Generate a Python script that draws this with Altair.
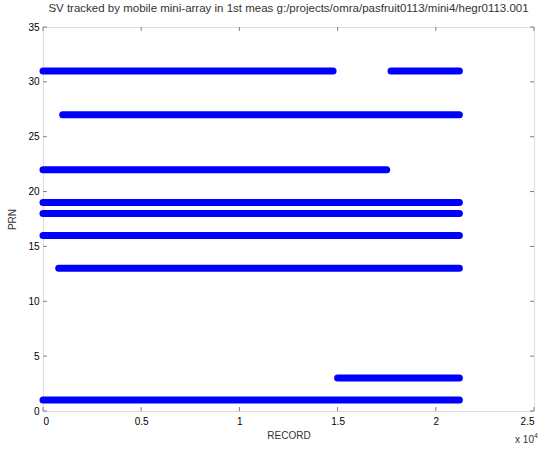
import altair as alt
import pandas as pd

# Tracked satellite segments (PRN, start record, end record)
prn = [1, 3, 13, 16, 18, 19, 22, 27, 31, 31]
rec_start = [0, 15000, 800, 0, 0, 0, 0, 1000, 0, 17720]
rec_end = [21200, 21200, 21200, 21200, 21200, 21200, 17500, 21200, 14770, 21200]

x_ticks = [0, 5000, 10000, 15000, 20000, 25000]
y_ticks = [0, 5, 10, 15, 20, 25, 30, 35]

title_text = "SV tracked by mobile mini-array in 1st meas g:/projects/omra/pasfruit0113/mini4/hegr0113.001"

W, H = 491, 384
FONT = "Liberation Sans"
GRAY = "#808080"
TXT = "#333333"

seg = pd.DataFrame({"prn": prn, "start": rec_start, "end": rec_end})
xt = pd.DataFrame({"t": x_ticks})
yt = pd.DataFrame({"t": y_ticks})

xscale = alt.Scale(domain=[0, 25000], nice=False, zero=False)
yscale = alt.Scale(domain=[0, 35], nice=False, zero=False)

segments = alt.Chart(seg).mark_rule(
    color="#0000ff", strokeWidth=7, strokeCap="round"
).encode(
    x=alt.X("start:Q", scale=xscale,
            axis=alt.Axis(values=x_ticks, labelExpr="datum.value / 10000",
                          title="RECORD", ticks=False, domain=False, grid=False,
                          labelPadding=5, titlePadding=4,
                          titleFontWeight="normal", titleFont=FONT, titleFontSize=10,
                          titleColor=TXT)),
    x2="end:Q",
    y=alt.Y("prn:Q", scale=yscale,
            axis=alt.Axis(values=y_ticks, title="PRN", ticks=False, domain=False,
                          grid=False, labelPadding=4, titlePadding=10,
                          titleFontWeight="normal", titleFont=FONT, titleFontSize=10,
                          titleColor=TXT)),
)

tick_style = dict(color=GRAY, strokeWidth=1)
xb = alt.Chart(xt).mark_rule(**tick_style).encode(
    x=alt.X("t:Q", scale=xscale), y=alt.value(H), y2=alt.value(H - 4))
xtop = alt.Chart(xt).mark_rule(**tick_style).encode(
    x=alt.X("t:Q", scale=xscale), y=alt.value(0), y2=alt.value(4))
yl = alt.Chart(yt).mark_rule(**tick_style).encode(
    y=alt.Y("t:Q", scale=yscale), x=alt.value(0), x2=alt.value(4))
yr = alt.Chart(yt).mark_rule(**tick_style).encode(
    y=alt.Y("t:Q", scale=yscale), x=alt.value(W), x2=alt.value(W - 4))

exp_base = alt.Chart(pd.DataFrame({"s": ["x 10"]})).mark_text(
    font=FONT, fontSize=10, color=TXT, align="right", baseline="middle"
).encode(x=alt.datum(25000, scale=xscale), y=alt.value(H + 29), text="s:N")
exp_pow = alt.Chart(pd.DataFrame({"s": ["4"]})).mark_text(
    font=FONT, fontSize=7, color=TXT, align="left", baseline="middle"
).encode(x=alt.datum(25000, scale=xscale), y=alt.value(H + 25), text="s:N")

chart = alt.layer(segments, xb, xtop, yl, yr, exp_base, exp_pow).properties(
    width=W, height=H,
    title=alt.TitleParams(title_text, font=FONT, fontSize=11.5, fontWeight="normal",
                          color=TXT, offset=8, anchor="middle"),
    autosize=alt.AutoSizeParams(type="none"),
    padding={"left": 43, "top": 27, "right": 16, "bottom": 40},
).configure_view(
    stroke=GRAY, strokeWidth=1
).configure_axis(
    labelFont=FONT, labelFontSize=10, labelColor=TXT,
).configure(background="white")

chart.save("out.html", embed_options={"renderer": "svg", "actions": False})
